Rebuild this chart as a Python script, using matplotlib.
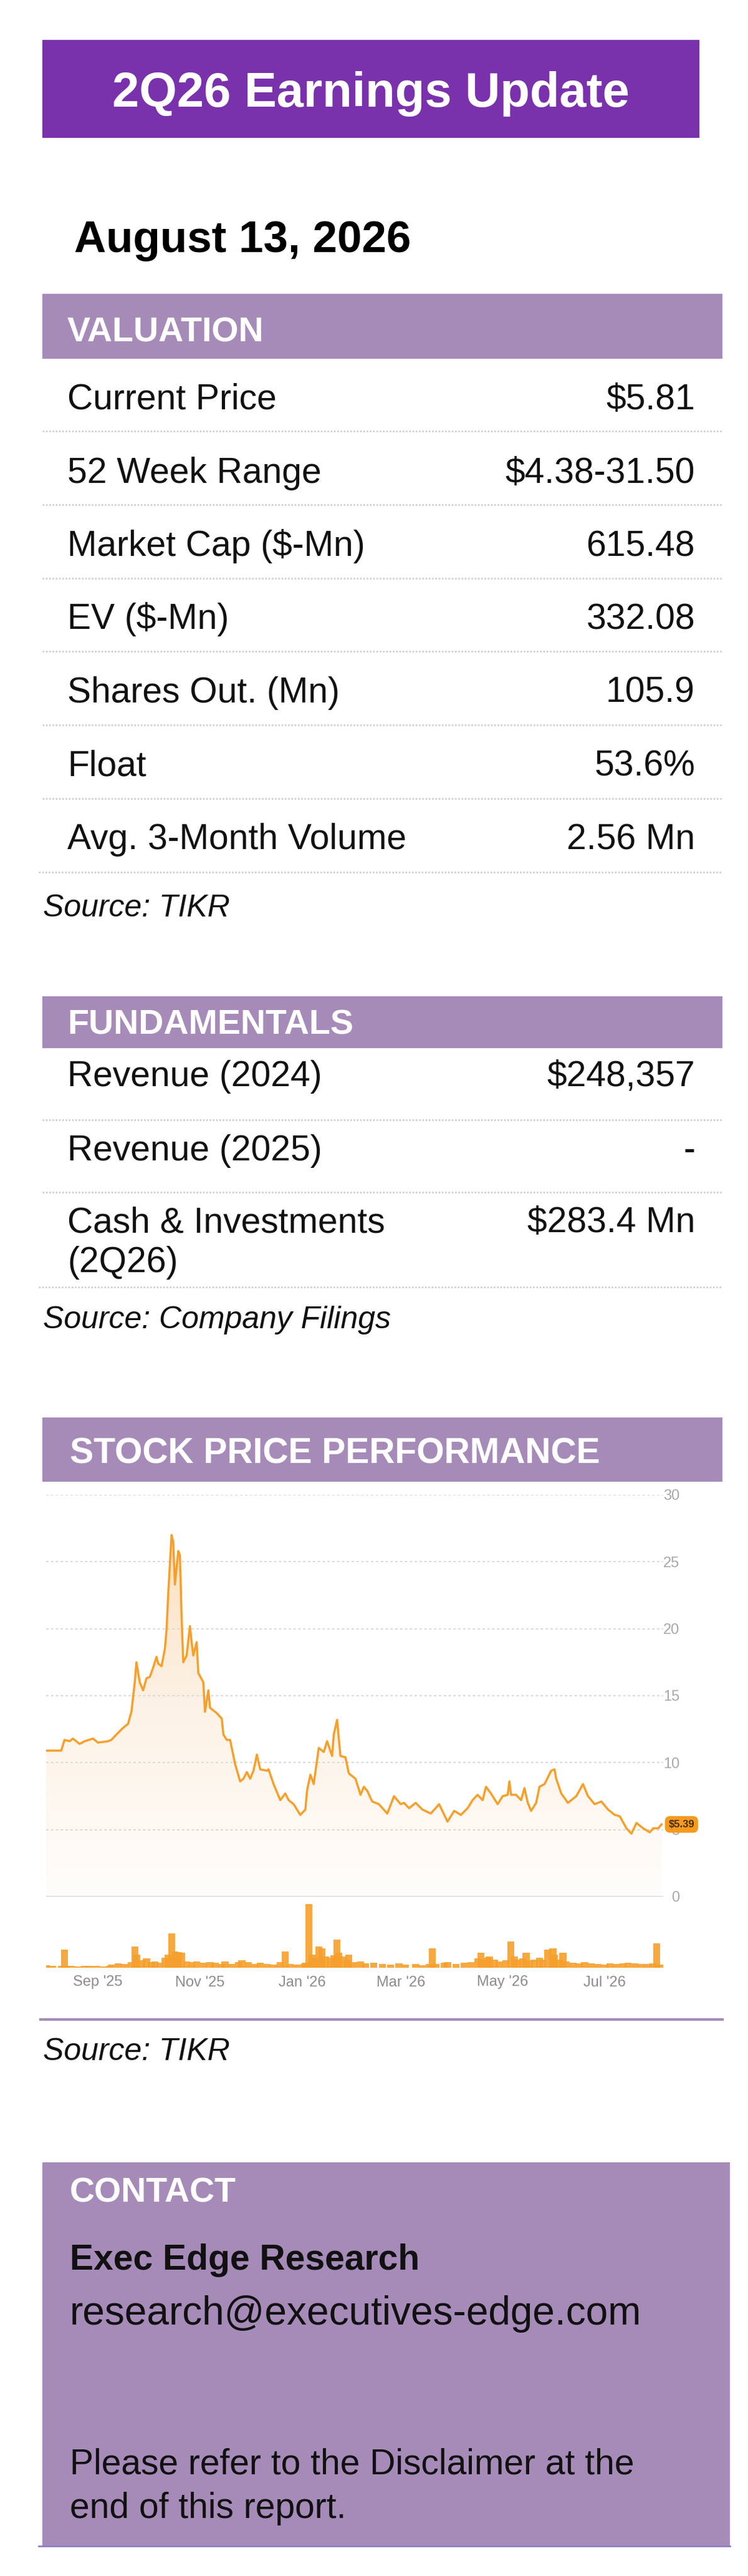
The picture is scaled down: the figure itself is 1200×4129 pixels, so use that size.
import matplotlib
matplotlib.use('Agg')
import numpy as np
import pandas as pd
import matplotlib.pyplot as plt
import matplotlib.dates as mdates
from matplotlib.colors import LinearSegmentedColormap
from matplotlib.patches import Rectangle

plt.rcParams['font.family'] = ['Liberation Sans', 'DejaVu Sans']

# ---- data ----
title = '2Q26 Earnings Update'
report_date = 'August 13, 2026'

valuation_labels = ['Current Price', '52 Week Range', 'Market Cap ($-Mn)', 'EV ($-Mn)',
                    'Shares Out. (Mn)', 'Float', 'Avg. 3-Month Volume']
valuation_values = ['$5.81', '$4.38-31.50', '615.48', '332.08', '105.9', '53.6%', '2.56 Mn']

fundamentals_labels = ['Revenue (2024)', 'Revenue (2025)', 'Cash & Investments\n(2Q26)']
fundamentals_values = ['$248,357', '-', '$283.4 Mn']

price_dates = [
    '2025-08-01', '2025-08-10', '2025-08-12', '2025-08-15', '2025-08-17', '2025-08-21', '2025-08-24',
    '2025-08-29', '2025-09-01', '2025-09-07', '2025-09-09', '2025-09-12', '2025-09-16', '2025-09-19',
    '2025-09-21', '2025-09-23', '2025-09-24', '2025-09-26', '2025-09-28', '2025-09-30', '2025-10-02',
    '2025-10-04', '2025-10-06', '2025-10-07', '2025-10-09', '2025-10-11', '2025-10-12', '2025-10-13',
    '2025-10-15', '2025-10-16', '2025-10-17', '2025-10-19', '2025-10-20', '2025-10-21', '2025-10-22',
    '2025-10-24', '2025-10-26', '2025-10-27', '2025-10-28', '2025-10-30', '2025-10-31', '2025-11-03',
    '2025-11-04', '2025-11-06', '2025-11-07', '2025-11-11', '2025-11-14', '2025-11-15', '2025-11-17',
    '2025-11-19', '2025-11-22', '2025-11-25', '2025-11-27', '2025-11-29', '2025-12-01', '2025-12-03',
    '2025-12-05', '2025-12-07', '2025-12-11', '2025-12-12', '2025-12-15', '2025-12-19', '2025-12-22',
    '2025-12-24', '2025-12-27', '2025-12-31', '2026-01-03', '2026-01-04', '2026-01-06', '2026-01-08',
    '2026-01-11', '2026-01-14', '2026-01-16', '2026-01-19', '2026-01-20', '2026-01-22', '2026-01-23',
    '2026-01-24', '2026-01-27', '2026-01-29', '2026-02-02', '2026-02-05', '2026-02-07', '2026-02-09',
    '2026-02-12', '2026-02-16', '2026-02-21', '2026-02-25', '2026-03-01', '2026-03-03', '2026-03-06',
    '2026-03-10', '2026-03-14', '2026-03-19', '2026-03-24', '2026-03-29', '2026-04-02', '2026-04-06',
    '2026-04-10', '2026-04-13', '2026-04-16', '2026-04-19', '2026-04-21', '2026-04-24', '2026-04-28',
    '2026-05-01', '2026-05-04', '2026-05-05', '2026-05-06', '2026-05-09', '2026-05-12', '2026-05-14',
    '2026-05-16', '2026-05-18', '2026-05-21', '2026-05-23', '2026-05-26', '2026-05-30', '2026-06-01',
    '2026-06-02', '2026-06-05', '2026-06-09', '2026-06-14', '2026-06-18', '2026-06-21', '2026-06-25',
    '2026-06-29', '2026-07-03', '2026-07-07', '2026-07-10', '2026-07-14', '2026-07-17', '2026-07-20',
    '2026-07-24', '2026-07-28', '2026-07-30', '2026-08-02', '2026-08-04']
price_values = [
    10.9, 10.9, 11.7, 11.6, 11.8, 11.4, 11.6,
    11.8, 11.5, 11.6, 11.7, 12.1, 12.6, 12.9,
    13.8, 16.0, 17.5, 16.0, 15.4, 16.3, 16.4,
    17.1, 17.9, 17.4, 17.2, 18.5, 19.9, 22.6,
    27.0, 26.5, 23.3, 25.8, 25.5, 20.9, 17.5,
    18.0, 20.2, 19.0, 18.0, 19.0, 16.7, 16.0,
    13.8, 15.4, 14.1, 13.7, 13.3, 12.1, 11.7,
    11.7, 9.9, 8.6, 8.8, 9.3, 8.8, 9.4,
    10.6, 9.5, 9.4, 9.5, 8.4, 7.2, 7.7,
    7.2, 6.9, 6.1, 6.5, 7.9, 9.1, 8.4,
    11.1, 10.8, 11.6, 10.5, 12.1, 13.2, 11.8,
    10.5, 10.4, 9.2, 8.8, 7.6, 8.2, 7.9,
    7.1, 6.9, 6.2, 7.5, 6.9, 7.0, 6.6,
    7.0, 6.5, 6.2, 6.9, 5.6, 6.4, 6.1,
    6.6, 7.2, 7.6, 7.2, 8.2, 7.7, 6.9,
    7.5, 7.6, 8.6, 7.6, 7.6, 7.2, 8.1,
    7.0, 6.4, 7.0, 8.2, 8.4, 9.4, 9.5,
    8.8, 7.7, 7.0, 7.5, 8.4, 7.5, 6.9,
    7.1, 6.5, 6.1, 6.0, 5.1, 4.7, 5.5,
    5.1, 4.8, 5.1, 5.1, 5.39]

volume_dates = [
    '2025-08-01', '2025-08-05', '2025-08-10', '2025-08-12', '2025-08-13', '2025-08-16', '2025-08-20',
    '2025-08-24', '2025-08-27', '2025-08-31', '2025-09-04', '2025-09-08', '2025-09-09', '2025-09-13',
    '2025-09-17', '2025-09-21', '2025-09-23', '2025-09-24', '2025-09-27', '2025-09-30', '2025-10-03',
    '2025-10-05', '2025-10-08', '2025-10-11', '2025-10-13', '2025-10-15', '2025-10-17', '2025-10-19',
    '2025-10-21', '2025-10-24', '2025-10-27', '2025-10-30', '2025-11-03', '2025-11-07', '2025-11-10',
    '2025-11-14', '2025-11-16', '2025-11-20', '2025-11-24', '2025-11-26', '2025-11-30', '2025-12-04',
    '2025-12-07', '2025-12-11', '2025-12-15', '2025-12-19', '2025-12-22', '2025-12-25', '2025-12-29',
    '2026-01-02', '2026-01-03', '2026-01-05', '2026-01-07', '2026-01-09', '2026-01-11', '2026-01-13',
    '2026-01-15', '2026-01-18', '2026-01-20', '2026-01-22', '2026-01-23', '2026-01-26', '2026-01-28',
    '2026-01-29', '2026-02-01', '2026-02-05', '2026-02-08', '2026-02-13', '2026-02-18', '2026-02-23',
    '2026-02-28', '2026-03-04', '2026-03-10', '2026-03-14', '2026-03-18', '2026-03-20', '2026-03-22',
    '2026-03-27', '2026-03-29', '2026-04-03', '2026-04-08', '2026-04-12', '2026-04-16', '2026-04-18',
    '2026-04-20', '2026-04-22', '2026-04-23', '2026-04-26', '2026-04-29', '2026-05-03', '2026-05-06',
    '2026-05-08', '2026-05-10', '2026-05-13', '2026-05-15', '2026-05-17', '2026-05-20', '2026-05-23',
    '2026-05-25', '2026-05-28', '2026-05-31', '2026-06-01', '2026-06-04', '2026-06-06', '2026-06-08',
    '2026-06-12', '2026-06-16', '2026-06-19', '2026-06-23', '2026-06-27', '2026-07-01', '2026-07-04',
    '2026-07-08', '2026-07-12', '2026-07-15', '2026-07-19', '2026-07-23', '2026-07-27', '2026-07-30',
    '2026-08-01', '2026-08-03']
volume_values = [
    8, 6, 5, 55, 6, 5, 4,
    5, 6, 5, 4, 5, 10, 14,
    12, 18, 65, 40, 22, 28, 18,
    20, 15, 30, 40, 105, 50, 48,
    45, 20, 18, 20, 15, 18, 15,
    12, 20, 12, 18, 22, 18, 12,
    15, 12, 10, 18, 50, 12, 10,
    12, 15, 195, 40, 30, 65, 60,
    35, 30, 38, 85, 45, 35, 25,
    40, 18, 20, 14, 15, 12, 10,
    14, 10, 12, 8, 12, 60, 12,
    15, 18, 12, 15, 18, 28, 45,
    25, 30, 35, 25, 20, 22, 80,
    35, 25, 28, 45, 22, 25, 30,
    25, 55, 60, 40, 25, 45, 20,
    15, 14, 18, 14, 12, 10, 14,
    12, 14, 16, 14, 12, 12, 14,
    75, 10]

price_ticks = [0, 5, 10, 15, 20, 25, 30]
chart_start, chart_end = '2025-08-01', '2026-08-05'

source_valuation = 'Source: TIKR'
source_fundamentals = 'Source: Company Filings'
source_chart = 'Source: TIKR'
contact_name = 'Exec Edge Research'
contact_email = 'research@executives-edge.com'
disclaimer = ['Please refer to the Disclaimer at the', 'end of this report.']

# ---- colours ----
DARK_PURPLE = '#7a31ac'
LIGHT_PURPLE = '#a68bb9'
ORANGE = '#f5a02c'
SEP_GREY = '#c9c9c9'

W, H = 1200, 4129
fig = plt.figure(figsize=(W / 100, H / 100), dpi=100)

# layout axes in pixel units (y down)
lay = fig.add_axes([0, 0, 1, 1])
lay.set_xlim(0, W)
lay.set_ylim(H, 0)
lay.axis('off')


def band(x0, y0, x1, y1, color):
    lay.add_patch(Rectangle((x0, y0), x1 - x0, y1 - y0, facecolor=color, edgecolor='none'))


def separator(y, x0=68, x1=1159):
    lay.plot([x0, x1], [y, y], color=SEP_GREY, lw=1.8, ls=(0, (1, 1.1)), solid_capstyle='butt')


def px_axes(x0, y0, x1, y1, **kw):
    return fig.add_axes([x0 / W, 1 - y1 / H, (x1 - x0) / W, (y1 - y0) / H], **kw)


# title banner
band(68, 64, 1122, 221, DARK_PURPLE)
lay.text(595, 171, title, color='white', fontsize=56, fontweight='bold', ha='center', va='baseline')
lay.text(119, 404, report_date, color='black', fontsize=51, fontweight='bold', va='baseline')

# valuation table
band(68, 471, 1159, 575, LIGHT_PURPLE)
lay.text(108, 548, 'VALUATION', color='white', fontsize=40, fontweight='bold', va='baseline')
for i, (lab, val) in enumerate(zip(valuation_labels, valuation_values)):
    base = 656 + i * 117.5
    lay.text(108, base, lab, fontsize=41, va='baseline', color='#111111')
    lay.text(1115, base, val, fontsize=41, va='baseline', ha='right', color='#111111')
    separator(691 + i * 117.8, x0=62 if i == len(valuation_labels) - 1 else 68)
lay.text(69, 1469, source_valuation, fontsize=36, style='italic', va='baseline', color='#111111')

# fundamentals table
band(68, 1597, 1159, 1680, LIGHT_PURPLE)
lay.text(108, 1658, 'FUNDAMENTALS', color='white', fontsize=40, fontweight='bold', va='baseline')
fund_base = [1741, 1860, 1975]
fund_sep = [1795, 1911, 2063]
for lab, val, base, sy in zip(fundamentals_labels, fundamentals_values, fund_base, fund_sep):
    for j, line in enumerate(lab.split('\n')):
        lay.text(108, base + j * 64, line, fontsize=41, va='baseline', color='#111111')
    lay.text(1115, base, val, fontsize=41, va='baseline', ha='right', color='#111111')
    separator(sy, x0=62 if sy == fund_sep[-1] else 68)
lay.text(69, 2129, source_fundamentals, fontsize=36, style='italic', va='baseline', color='#111111')

# stock price performance
band(68, 2272, 1159, 2375, LIGHT_PURPLE)
lay.text(112, 2346, 'STOCK PRICE PERFORMANCE', color='white', fontsize=41, fontweight='bold', va='baseline')

dates = pd.to_datetime(price_dates)
xnum = mdates.date2num(dates)
vdates = mdates.date2num(pd.to_datetime(volume_dates))
x_lo, x_hi = mdates.date2num(pd.to_datetime([chart_start, chart_end]))

ax = px_axes(74, 2396, 1064, 3040)
vax = px_axes(74, 3044, 1064, 3154, sharex=ax)

# gradient fill under the price line
fill = ax.fill_between(xnum, price_values, 0, facecolor='none', edgecolor='none')
grad = np.linspace(0, 1, 256).reshape(-1, 1)
cmap = LinearSegmentedColormap.from_list('peach', ['#fffdfb', '#fdf2e6', '#fcdfbd'])
im = ax.imshow(grad, extent=[x_lo, x_hi, 0, 28], origin='lower', aspect='auto', cmap=cmap, zorder=1)
im.set_clip_path(fill.get_paths()[0], transform=ax.transData)

ax.plot(xnum, price_values, color=ORANGE, lw=2.5, zorder=3, solid_joinstyle='round')
ax.set_xlim(x_lo, x_hi)
ax.set_ylim(0, 30)
ax.set_yticks(price_ticks)
ax.grid(axis='y', color='#d9d9d9', lw=1.4, ls=(0, (2, 2)))
ax.axhline(0, color='#cfcfcf', lw=2, zorder=2)
ax.yaxis.tick_right()
ax.tick_params(axis='y', length=0, pad=19, labelsize=17, labelcolor='#a8a8a8')
for lab in ax.get_yticklabels():
    lab.set_ha('right')
ax.tick_params(axis='x', bottom=False, labelbottom=False)
for s in ax.spines.values():
    s.set_visible(False)
ax.set_facecolor('none')

ax.annotate(f'${price_values[-1]:.2f}', xy=(xnum[-1], price_values[-1]), xytext=(32, 0),
            textcoords='offset pixels', ha='center', va='center', fontsize=12, fontweight='bold',
            color='#4a2e00', zorder=10, annotation_clip=False,
            bbox=dict(boxstyle='round,pad=0.35,rounding_size=0.5', fc='#f59a1e', ec='none'))

# volume bars
vax.bar(vdates, volume_values, width=4.2, color=ORANGE, alpha=0.9, lw=0)
vax.set_ylim(0, 210)
vax.set_yticks([])
for s in vax.spines.values():
    s.set_visible(False)
vax.set_facecolor('none')
vax.xaxis.set_major_locator(mdates.MonthLocator(bymonth=[1, 3, 5, 7, 9, 11]))
vax.xaxis.set_major_formatter(mdates.DateFormatter("%b '%y"))
vax.tick_params(axis='x', length=0, pad=9, labelsize=17, labelcolor='#8c8c8c')
vax.set_xlim(x_lo, x_hi)

lay.plot([65, 1159], [3237, 3237], color=LIGHT_PURPLE, lw=3)
lay.text(69, 3302, source_chart, fontsize=36, style='italic', va='baseline', color='#111111')

# contact box
band(68, 3466, 1171, 4081, LIGHT_PURPLE)
lay.plot([62, 1171], [4081, 4081], color='#8d80c4', lw=2)
lay.text(112, 3529, 'CONTACT', color='white', fontsize=40, fontweight='bold', va='baseline')
lay.text(112, 3638, contact_name, fontsize=41, fontweight='bold', va='baseline', color='#111111')
lay.text(112, 3726, contact_email, fontsize=46, va='baseline', color='#111111')
lay.text(112, 3965, disclaimer[0], fontsize=41, va='baseline', color='#111111')
lay.text(112, 4036, disclaimer[1], fontsize=41, va='baseline', color='#111111')

fig.savefig('out.png', dpi=100, facecolor='white')
